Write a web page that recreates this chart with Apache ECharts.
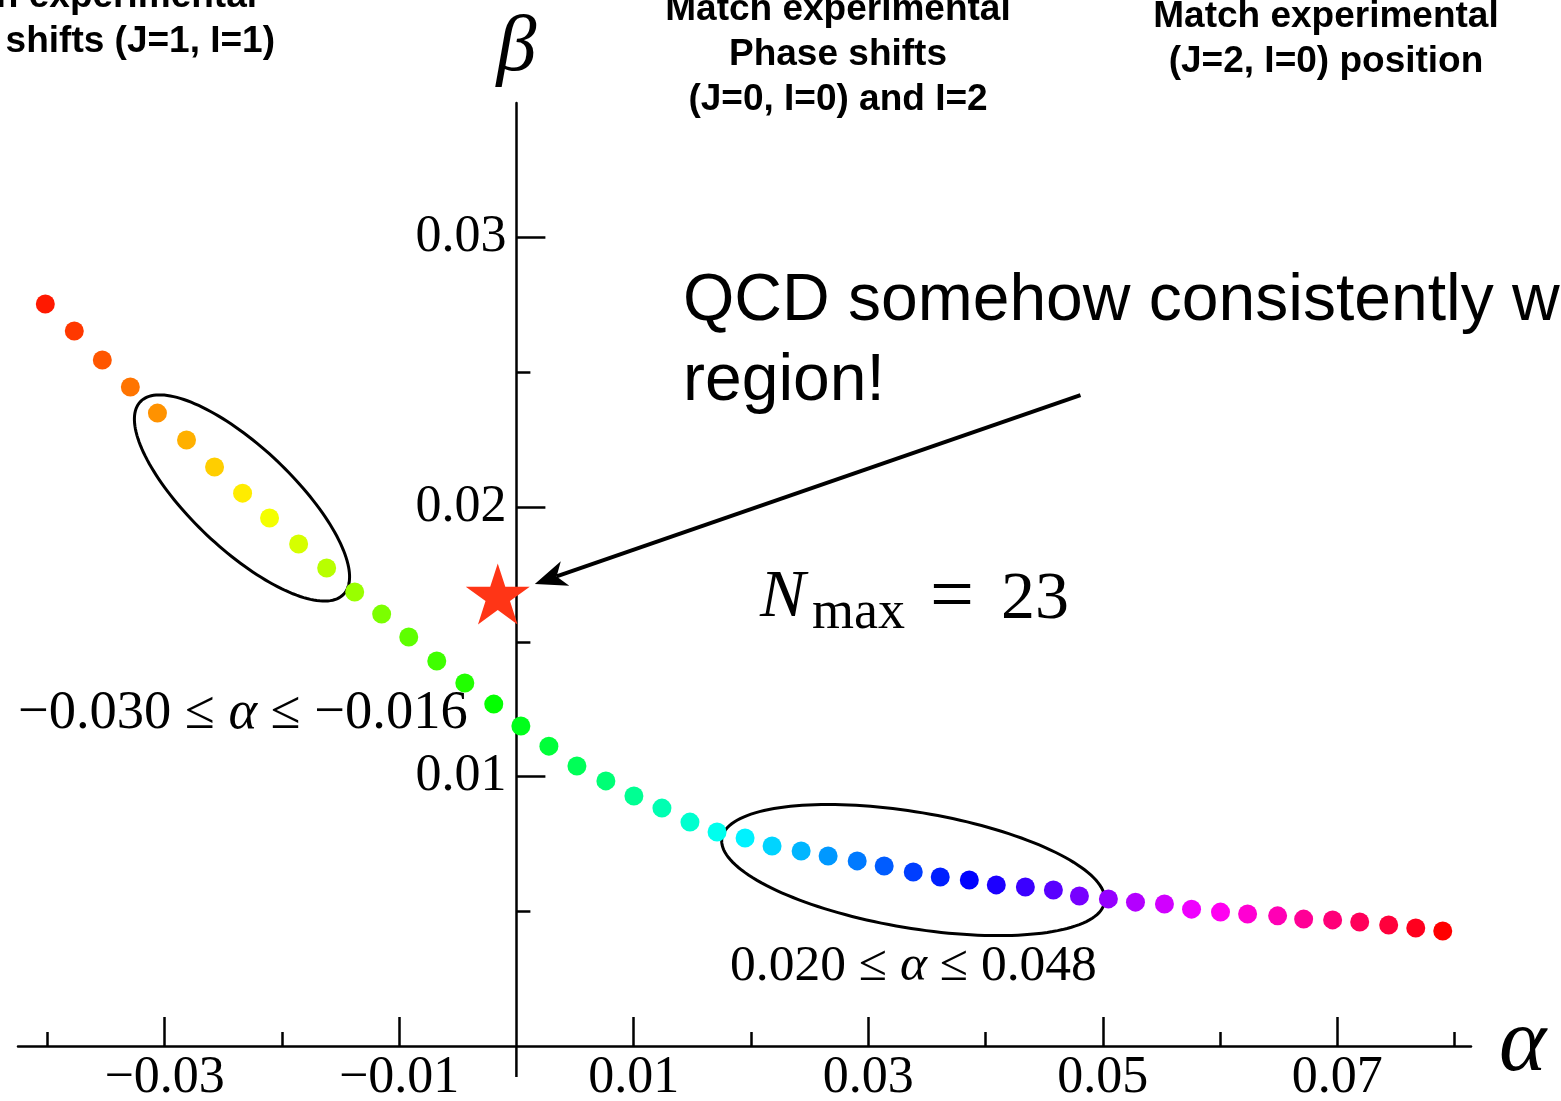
<!DOCTYPE html>
<html><head><meta charset="utf-8">
<script src="https://cdn.jsdelivr.net/npm/echarts@6.0.0/dist/echarts.min.js"></script>
<style>html,body{margin:0;padding:0;background:#fff}#c{width:1561px;height:1101px}</style>
</head><body><div id="c"></div>
<script>
// ---- data ----
const alphaValues = [-0.04017,-0.03770,-0.03531,-0.03292,-0.03061,-0.02813,-0.02574,-0.02335,-0.02105,-0.01857,
  -0.01618,-0.01379,-0.01149,-0.00918,-0.00679,-0.00440,-0.00193,0.00038,0.00277,0.00516,
  0.00763,0.01002,0.01241,0.01480,0.01711,0.01950,0.02180,0.02428,0.02658,0.02906,
  0.03136,0.03384,0.03614,0.03862,0.04092,0.04340,0.04579,0.04801,0.05048,0.05279,
  0.05526,0.05757,0.06004,0.06235,0.06491,0.06713,0.06960,0.07191,0.07438,0.07669,0.07899];
const betaValues = [0.02754,0.02654,0.02546,0.02446,0.02349,0.02249,0.02149,0.02052,0.01960,0.01863,
  0.01774,0.01685,0.01603,0.01518,0.01429,0.01347,0.01269,0.01188,0.01113,0.01039,
  0.00984,0.00928,0.00883,0.00831,0.00794,0.00772,0.00742,0.00724,0.00705,0.00687,
  0.00668,0.00646,0.00627,0.00616,0.00598,0.00590,0.00579,0.00557,0.00546,0.00534,
  0.00527,0.00508,0.00497,0.00490,0.00483,0.00471,0.00468,0.00460,0.00449,0.00438,0.00427];
const starPoint = [-0.00159, 0.01678];
const arrowStart = [0.04810, 0.02416];
const arrowEnd = [0.00157, 0.01715];
const ellipseCenters = [[-0.02340, 0.02034], [0.03384, 0.00653]];
const xMajorTicks = [-0.03, -0.01, 0.01, 0.03, 0.05, 0.07];
const xMinorTicks = [-0.04, -0.02, 0.02, 0.04, 0.06, 0.08];
const yMajorTicks = [0.01, 0.02, 0.03];
const yMinorTicks = [0.005, 0.015, 0.025];
const xRange = [-0.0425, 0.0814];
const yRange = [0, 0.035];

// ---- styles / layout ----
const SERIF = '"Liberation Serif", "Times New Roman", serif';
const SANS = '"Liberation Sans", Arial, Helvetica, sans-serif';
const ellipseShapes = [{a: 140, b: 51, deg: 43.4}, {a: 194, b: 58, deg: 9.5}];
const fmt = v => v.toFixed(2).replace('-', '\u2212');
const W = 1561, GRID = {left: 18, right: 90, top: 103, bottom: 55};
const gridWidth = W - GRID.left - GRID.right;
// place the vertical axis where alpha = 0 (axes cross at the origin)
const yAxisOffset = -((0 - xRange[0]) / (xRange[1] - xRange[0])) * gridWidth;

const chart = echarts.init(document.getElementById('c'), null, {renderer: 'canvas'});

const axisLineStyle = {color: '#000', width: 2.5};
const option = {
  animation: false,
  backgroundColor: '#fff',
  grid: Object.assign({containLabel: false, outerBoundsMode: 'none'}, GRID),
  xAxis: [
    {type: 'value', min: xRange[0], max: xRange[1], position: 'bottom',
     axisLine: {show: true, onZero: false, lineStyle: axisLineStyle},
     axisTick: {show: true, inside: true, length: 29, customValues: xMajorTicks, lineStyle: axisLineStyle},
     axisLabel: {show: true, customValues: xMajorTicks, formatter: fmt, margin: 6,
       fontFamily: SERIF, fontSize: 52, color: '#000'},
     splitLine: {show: false},
     name: '\u03b1', nameLocation: 'end', nameGap: 28,
     nameTextStyle: {fontFamily: SERIF, fontStyle: 'italic', fontSize: 90, color: '#000',
       verticalAlign: 'middle', padding: [0, 0, 16, 0]}},
    {type: 'value', min: xRange[0], max: xRange[1], position: 'bottom',
     axisLine: {show: false, onZero: false},
     axisTick: {show: true, inside: true, length: 14, customValues: xMinorTicks, lineStyle: axisLineStyle},
     axisLabel: {show: false}, splitLine: {show: false}}
  ],
  yAxis: [
    {type: 'value', min: yRange[0], max: yRange[1], position: 'left', offset: yAxisOffset,
     axisLine: {show: true, onZero: false, lineStyle: axisLineStyle},
     axisTick: {show: true, inside: true, length: 29, customValues: yMajorTicks, lineStyle: axisLineStyle},
     axisLabel: {show: true, customValues: yMajorTicks, formatter: fmt, margin: 10,
       fontFamily: SERIF, fontSize: 52, color: '#000'},
     splitLine: {show: false},
     name: '\u03b2', nameLocation: 'end', nameGap: 14,
     nameTextStyle: {fontFamily: SERIF, fontStyle: 'italic', fontSize: 80, color: '#000', align: 'center'}},
    {type: 'value', min: yRange[0], max: yRange[1], position: 'left', offset: yAxisOffset,
     axisLine: {show: false, onZero: false},
     axisTick: {show: true, inside: true, length: 14, customValues: yMinorTicks, lineStyle: axisLineStyle},
     axisLabel: {show: false}, splitLine: {show: false}}
  ],
  series: [
    {
      type: 'custom', name: 'axisExtension', xAxisIndex: 0, yAxisIndex: 0, z: 1, silent: true, clip: false,
      data: [[0, 0]],
      renderItem(params, api) {
        const p = api.coord([api.value(0), api.value(1)]);
        return {type: 'line', shape: {x1: p[0], y1: p[1], x2: p[0], y2: p[1] + 31},
          style: {stroke: '#000', lineWidth: 2.5}};
      }
    },
    {
      type: 'custom', name: 'ellipses', xAxisIndex: 0, yAxisIndex: 0, z: 2, silent: true, clip: false,
      data: ellipseCenters,
      renderItem(params, api) {
        const c = api.coord([api.value(0), api.value(1)]);
        const s = ellipseShapes[params.dataIndex];
        const th = s.deg * Math.PI / 180;
        const pts = [];
        for (let k = 0; k < 160; k++) {
          const t = k / 160 * 2 * Math.PI;
          const ex = s.a * Math.cos(t), ey = s.b * Math.sin(t);
          pts.push([c[0] + ex * Math.cos(th) - ey * Math.sin(th), c[1] + ex * Math.sin(th) + ey * Math.cos(th)]);
        }
        return {type: 'polygon', shape: {points: pts}, style: {fill: 'none', stroke: '#000', lineWidth: 3}};
      }
    },
    {
      type: 'scatter', name: 'points', xAxisIndex: 0, yAxisIndex: 0, z: 3,
      data: alphaValues.map((a, i) => [a, betaValues[i]]),
      symbol: 'circle', symbolSize: 19,
      itemStyle: {color: p => 'hsl(' + ((6 + 7.08 * p.dataIndex) % 360).toFixed(1) + ',100%,50%)', opacity: 1}
    },
    {
      type: 'scatter', name: 'star', xAxisIndex: 0, yAxisIndex: 0, z: 4,
      data: [starPoint],
      symbol: 'path://M0,-100 L22.45,-30.9 L95.1,-30.9 L36.33,11.8 L58.8,80.9 L0,38.2 L-58.8,80.9 L-36.33,11.8 L-95.1,-30.9 L-22.45,-30.9 Z',
      symbolSize: [64, 61],
      itemStyle: {color: '#ff3516', opacity: 1}
    },
    {
      type: 'custom', name: 'arrow', xAxisIndex: 0, yAxisIndex: 0, z: 5, silent: true, clip: false,
      data: [[arrowStart[0], arrowStart[1], arrowEnd[0], arrowEnd[1]]],
      renderItem(params, api) {
        const p1 = api.coord([api.value(0), api.value(1)]);
        const p2 = api.coord([api.value(2), api.value(3)]);
        const dx = p2[0] - p1[0], dy = p2[1] - p1[1];
        const len = Math.sqrt(dx * dx + dy * dy);
        const ux = dx / len, uy = dy / len, nx = -uy, ny = ux;
        const L = 32, HW = 13;
        const base = [p2[0] - ux * L, p2[1] - uy * L];
        const notch = [p2[0] - ux * L * 0.72, p2[1] - uy * L * 0.72];
        return {type: 'group', children: [
          {type: 'line', shape: {x1: p1[0], y1: p1[1], x2: notch[0], y2: notch[1]},
            style: {stroke: '#000', lineWidth: 4}},
          {type: 'polygon', shape: {points: [p2, [base[0] + nx * HW, base[1] + ny * HW], notch, [base[0] - nx * HW, base[1] - ny * HW]]},
            style: {fill: '#000'}}
        ]};
      }
    }
  ],
  graphic: [
    {type: 'text', x: 257, y: -3, style: {text: 'Match experimental', font: 'bold 37px ' + SANS, fill: '#000', align: 'right', verticalAlign: 'middle'}},
    {type: 'text', x: 275, y: 42, style: {text: 'Phase shifts (J=1, I=1)', font: 'bold 37px ' + SANS, fill: '#000', align: 'right', verticalAlign: 'middle'}},
    {type: 'text', x: 838, y: 10, style: {text: 'Match experimental', font: 'bold 37px ' + SANS, fill: '#000', align: 'center', verticalAlign: 'middle'}},
    {type: 'text', x: 838, y: 55, style: {text: 'Phase shifts', font: 'bold 37px ' + SANS, fill: '#000', align: 'center', verticalAlign: 'middle'}},
    {type: 'text', x: 838, y: 100, style: {text: '(J=0, I=0) and I=2', font: 'bold 37px ' + SANS, fill: '#000', align: 'center', verticalAlign: 'middle'}},
    {type: 'text', x: 1326, y: 17, style: {text: 'Match experimental', font: 'bold 37px ' + SANS, fill: '#000', align: 'center', verticalAlign: 'middle'}},
    {type: 'text', x: 1326, y: 62, style: {text: '(J=2, I=0) position', font: 'bold 37px ' + SANS, fill: '#000', align: 'center', verticalAlign: 'middle'}},
    {type: 'text', x: 683, y: 302, style: {text: 'QCD somehow consistently with this', font: '66px ' + SANS, fill: '#000', align: 'left', verticalAlign: 'middle'}},
    {type: 'text', x: 683, y: 382, style: {text: 'region!', font: '66px ' + SANS, fill: '#000', align: 'left', verticalAlign: 'middle'}},
    {type: 'text', x: 760, y: 598, style: {text: 'N', font: 'italic 68px ' + SERIF, fill: '#000', align: 'left', verticalAlign: 'middle'}},
    {type: 'text', x: 812, y: 614, style: {text: 'max', font: '54px ' + SERIF, fill: '#000', align: 'left', verticalAlign: 'middle'}},
    {type: 'text', x: 952, y: 600, style: {text: '=', font: '78px ' + SERIF, fill: '#000', align: 'center', verticalAlign: 'middle'}},
    {type: 'text', x: 1001, y: 600, style: {text: '23', font: '68px ' + SERIF, fill: '#000', align: 'left', verticalAlign: 'middle'}},
    {type: 'text', x: 18, y: 714, style: {text: '{n|\u22120.030 \u2264 }{i|\u03b1}{n| \u2264 \u22120.016}', align: 'left', verticalAlign: 'middle',
      rich: {n: {font: '54.5px ' + SERIF, fill: '#000'}, i: {font: 'italic 54.5px ' + SERIF, fill: '#000'}}}},
    {type: 'text', x: 730, y: 966, style: {text: '{n|0.020 \u2264 }{i|\u03b1}{n| \u2264 0.048}', align: 'left', verticalAlign: 'middle',
      rich: {n: {font: '51.5px ' + SERIF, fill: '#000'}, i: {font: 'italic 51.5px ' + SERIF, fill: '#000'}}}}
  ]
};
chart.setOption(option);
</script>
</body></html>
